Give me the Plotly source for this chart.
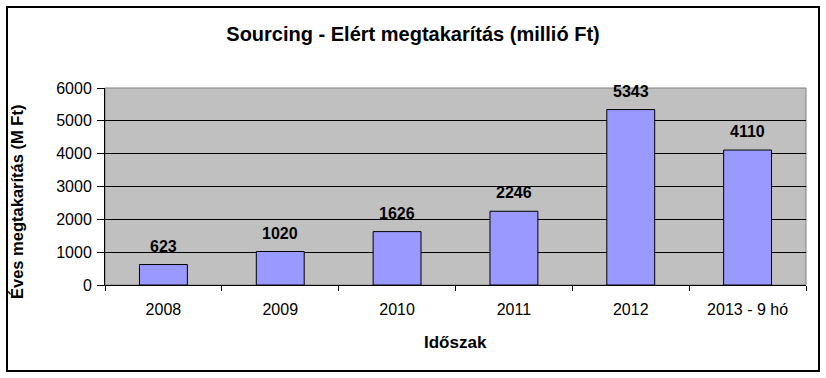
import plotly.graph_objects as go

categories = ["2008", "2009", "2010", "2011", "2012", "2013 - 9 hó"]
values = [623, 1020, 1626, 2246, 5343, 4110]
y_ticks = [0, 1000, 2000, 3000, 4000, 5000, 6000]

title_text = "Sourcing - Elért megtakarítás (millió Ft)"
y_title = "Éves megtakarítás (M Ft)"
x_title = "Időszak"

FONT = "Liberation Sans, Arial, sans-serif"

# plot area in pixels
L, R, T, B = 105, 806, 88, 285
W, H = R - L, B - T

fig = go.Figure()
fig.add_trace(go.Bar(
    x=categories, y=values,
    marker=dict(color="#9999FF", line=dict(color="black", width=1)),
    width=0.41,
    hoverinfo="x+y",
))

# data labels (category index used as position on the category axis)
for i, v in enumerate(values):
    fig.add_annotation(x=i, y=v, text=f"<b>{v}</b>", showarrow=False,
                       yanchor="bottom", yshift=8,
                       font=dict(family=FONT, size=16, color="black"))

fig.add_annotation(xref="paper", yref="paper", x=0.5, y=(B - 342) / H,
                   text=f"<b>{x_title}</b>", showarrow=False,
                   yanchor="middle", font=dict(family=FONT, size=17, color="black"))
fig.add_annotation(xref="paper", yref="paper", x=(17 - L) / W, y=(B - 202) / H,
                   text=f"<b>{y_title}</b>", showarrow=False, textangle=-90,
                   xanchor="center", yanchor="middle",
                   font=dict(family=FONT, size=16.5, color="black"))

# outer chart border
fig.add_shape(type="rect", xref="paper", yref="paper",
              x0=(7 - L) / W, x1=(819 - L) / W, y0=(B - 371) / H, y1=(B - 7) / H,
              line=dict(color="black", width=2), fillcolor="rgba(0,0,0,0)", layer="below")
# plot-area border (gray)
fig.add_shape(type="rect", xref="paper", yref="paper", x0=0, x1=1, y0=0, y1=1,
              line=dict(color="#808080", width=1), fillcolor="rgba(0,0,0,0)", layer="below")

fig.update_layout(
    width=826, height=378,
    margin=dict(l=L, r=826 - R, t=T, b=378 - B, autoexpand=False),
    paper_bgcolor="white", plot_bgcolor="#C0C0C0",
    showlegend=False,
    title=dict(text=f"<b>{title_text}</b>", x=0.5, xref="container", xanchor="center",
               y=1 - 34 / 378, yref="container", yanchor="middle",
               font=dict(family=FONT, size=20, color="black")),
    font=dict(family=FONT, size=16, color="black"),
    bargap=0.59,
)
fig.update_xaxes(
    type="category", range=[-0.5, 5.5], showline=True, linecolor="black", linewidth=1,
    ticks="outside", tickson="boundaries", ticklen=5, tickcolor="black",
    showgrid=False, tickfont=dict(family=FONT, size=16, color="black"),
    tickangle=0, automargin=False, ticklabelstandoff=10,
)
fig.update_yaxes(
    range=[0, 6000], tickvals=y_ticks, showline=True, linecolor="black", linewidth=1,
    ticks="outside", ticklen=7, tickcolor="black",
    showgrid=True, gridcolor="black", gridwidth=1, zeroline=False,
    tickfont=dict(family=FONT, size=16, color="black"), automargin=False,
    ticklabelstandoff=2,
)

fig.write_html("out.html", config={"displayModeBar": False},
               post_script="document.body.style.margin='0';")
